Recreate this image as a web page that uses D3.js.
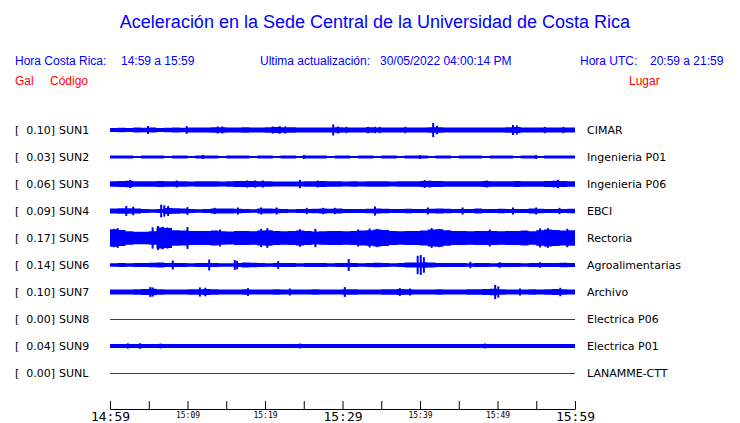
<!DOCTYPE html>
<html>
<head>
<meta charset="utf-8">
<script src="https://cdn.jsdelivr.net/npm/d3@7"></script>
<style>
  body { margin: 0; background: #fff; }
  svg { display: block; }
</style>
</head>
<body>
<svg id="chart" width="740" height="423"></svg>
<script>
// stations (top to bottom)
var codes = ["SUN1","SUN2","SUN3","SUN4","SUN5","SUN6","SUN7","SUN8","SUN9","SUNL"];
var places = ["CIMAR","Ingenieria P01","Ingenieria P06","EBCI","Rectoria","Agroalimentarias","Archivo","Electrica P06","Electrica P01","LANAMME-CTT"];
var peakGal = [0.10,0.03,0.06,0.09,0.17,0.14,0.10,0.00,0.04,0.00];

// axis ticks (every 5 min), labels every 10 min
var tickTimes = ["14:59","15:04","15:09","15:14","15:19","15:24","15:29","15:34","15:39","15:44","15:49","15:54","15:59"];
var tickLabels = ["14:59","15:09","15:19","15:29","15:39","15:49","15:59"];
var bigLabels = ["14:59","15:29","15:59"];

// envelope (half amplitude, Gal) for each minute after 14:59
var sun1Env = [0.030,0.032,0.030,0.034,0.032,0.035,0.030,0.032,0.034,0.033,0.035,0.036,0.034,0.038,0.040,0.036,0.035,0.038,0.036,0.037,
  0.038,0.042,0.040,0.038,0.036,0.035,0.036,0.034,0.036,0.038,0.035,0.034,0.036,0.038,0.036,0.034,0.035,0.034,0.036,0.035,
  0.034,0.040,0.038,0.035,0.034,0.035,0.036,0.034,0.035,0.036,0.035,0.038,0.042,0.036,0.035,0.034,0.036,0.035,0.034,0.035];
var sun2Env = [0.022,0.021,0.022,0.014,0.022,0.021,0.022,0.015,0.022,0.022,0.014,0.022,0.021,0.022,0.015,0.022,0.022,0.021,0.014,0.022,
  0.021,0.015,0.022,0.022,0.014,0.021,0.022,0.022,0.015,0.022,0.021,0.014,0.022,0.021,0.015,0.022,0.022,0.014,0.021,0.022,
  0.022,0.015,0.021,0.022,0.014,0.022,0.021,0.022,0.015,0.022,0.021,0.022,0.014,0.022,0.021,0.015,0.022,0.022,0.021,0.022];
var sun3Env = [0.040,0.042,0.045,0.040,0.038,0.040,0.042,0.040,0.038,0.040,0.036,0.038,0.040,0.038,0.036,0.038,0.042,0.044,0.042,0.040,
  0.038,0.036,0.035,0.034,0.036,0.038,0.040,0.042,0.040,0.038,0.036,0.038,0.036,0.038,0.040,0.038,0.036,0.038,0.040,0.038,
  0.042,0.044,0.042,0.040,0.038,0.040,0.038,0.040,0.042,0.040,0.038,0.040,0.042,0.040,0.038,0.040,0.042,0.045,0.044,0.040];
var sun4Env = [0.036,0.040,0.038,0.036,0.028,0.026,0.030,0.042,0.040,0.036,0.028,0.026,0.028,0.034,0.036,0.034,0.032,0.028,0.026,0.034,
  0.036,0.032,0.028,0.026,0.028,0.027,0.032,0.034,0.032,0.034,0.030,0.028,0.030,0.032,0.036,0.032,0.030,0.028,0.032,0.030,
  0.028,0.032,0.036,0.032,0.030,0.028,0.030,0.034,0.030,0.028,0.032,0.030,0.028,0.030,0.034,0.032,0.030,0.028,0.030,0.032];
var sun5Env = [0.125,0.115,0.095,0.090,0.088,0.095,0.150,0.140,0.110,0.105,0.100,0.098,0.100,0.105,0.095,0.092,0.098,0.100,0.095,0.105,
  0.110,0.100,0.095,0.098,0.105,0.100,0.092,0.095,0.100,0.098,0.095,0.100,0.105,0.110,0.120,0.115,0.100,0.095,0.098,0.100,
  0.105,0.120,0.125,0.110,0.100,0.098,0.095,0.100,0.098,0.100,0.095,0.098,0.100,0.105,0.095,0.110,0.120,0.115,0.105,0.110];
var sun6Env = [0.026,0.028,0.026,0.030,0.028,0.032,0.034,0.030,0.028,0.030,0.026,0.028,0.030,0.028,0.026,0.024,0.030,0.034,0.032,0.028,
  0.026,0.028,0.030,0.028,0.026,0.028,0.030,0.028,0.026,0.028,0.030,0.028,0.026,0.030,0.032,0.028,0.026,0.030,0.034,0.036,
  0.040,0.034,0.030,0.028,0.030,0.028,0.026,0.028,0.030,0.026,0.028,0.030,0.028,0.026,0.028,0.030,0.028,0.030,0.032,0.030];
var sun7Env = [0.034,0.036,0.034,0.038,0.042,0.045,0.040,0.036,0.034,0.036,0.038,0.040,0.042,0.038,0.036,0.034,0.036,0.038,0.036,0.034,
  0.036,0.038,0.036,0.034,0.035,0.036,0.038,0.036,0.034,0.036,0.038,0.040,0.036,0.034,0.036,0.038,0.040,0.042,0.038,0.036,
  0.034,0.036,0.038,0.036,0.034,0.036,0.038,0.040,0.044,0.045,0.040,0.036,0.034,0.036,0.038,0.036,0.040,0.042,0.038,0.036];
var sun8Env = [];
var sun9Env = [0.028,0.028,0.030,0.030,0.028,0.028,0.029,0.028,0.028,0.028,0.028,0.029,0.028,0.028,0.028,0.028,0.028,0.029,0.028,0.028,
  0.028,0.028,0.028,0.028,0.029,0.028,0.028,0.028,0.028,0.028,0.028,0.028,0.028,0.029,0.028,0.028,0.028,0.028,0.028,0.028,
  0.028,0.028,0.029,0.028,0.028,0.028,0.028,0.028,0.029,0.028,0.028,0.028,0.028,0.028,0.028,0.028,0.029,0.028,0.028,0.028];
var sunLEnv = [];

// isolated bursts: [minutes after 14:59, half amplitude Gal]
var sun1Spikes = [[4.9,0.057],[9.9,0.055],[13.9,0.05],[14.5,0.05],[21.0,0.05],[21.9,0.055],[22.6,0.05],[28.8,0.078],[29.4,0.05],[30.5,0.045],
  [33.3,0.045],[34.2,0.045],[34.8,0.045],[38.1,0.045],[41.7,0.10],[42.2,0.06],[52.0,0.07],[52.5,0.065],[56.1,0.045],[58.5,0.045]];
var sun2Spikes = [[12,0.03],[25,0.028],[40,0.03],[55,0.028]];
var sun3Spikes = [[2.6,0.058],[8.6,0.05],[17.7,0.05],[18.7,0.05],[19.7,0.05],[24.5,0.058],[26.8,0.05],[40.6,0.055],[41.3,0.05],[48.6,0.05],[57.8,0.06]];
var sun4Spikes = [[2.1,0.07],[3.0,0.06],[6.6,0.09],[7.0,0.08],[7.5,0.07],[10.0,0.055],[13.5,0.045],[16.5,0.05],[19.5,0.05],[21.5,0.05],
  [25.4,0.045],[27.5,0.045],[29.0,0.045],[34.2,0.065],[41.0,0.05],[45.5,0.05],[52.0,0.05],[55.0,0.05],[58.0,0.045]];
var sun5Spikes = [[0.5,0.13],[1.0,0.14],[5.5,0.15],[6.2,0.17],[6.8,0.16],[7.4,0.15],[10.0,0.155],[14.2,0.12],[19.5,0.13],[20.3,0.14],
  [24.5,0.125],[26.5,0.13],[32.0,0.12],[33.5,0.135],[34.5,0.13],[41.5,0.14],[42.5,0.13],[49.0,0.12],[55.5,0.135],[56.5,0.14],[59.0,0.13]];
var sun6Spikes = [[8.1,0.063],[12.8,0.077],[16.1,0.07],[16.4,0.06],[21.7,0.055],[30.8,0.085],[39.7,0.13],[40.1,0.14],[40.5,0.11],
  [46.5,0.045],[50.3,0.04],[55.5,0.04]];
var sun7Spikes = [[5.2,0.07],[5.5,0.065],[11.6,0.065],[12.3,0.06],[17.8,0.055],[23.2,0.05],[30.3,0.07],[37.4,0.055],[38.7,0.05],
  [49.7,0.10],[50.1,0.08],[52.9,0.05],[58.1,0.06]];
var sun8Spikes = [];
var sun9Spikes = [[2.3,0.038],[3.9,0.04],[6.5,0.035],[24.5,0.035],[48.4,0.035]];
var sunLSpikes = [];

var envs = [sun1Env,sun2Env,sun3Env,sun4Env,sun5Env,sun6Env,sun7Env,sun8Env,sun9Env,sunLEnv];
var spikes = [sun1Spikes,sun2Spikes,sun3Spikes,sun4Spikes,sun5Spikes,sun6Spikes,sun7Spikes,sun8Spikes,sun9Spikes,sunLSpikes];

var svg = d3.select("#chart");
var parse = d3.timeParse("%H:%M");
var t0 = parse("14:59"), t1 = parse("15:59");

var x = d3.scaleTime().domain([t0, t1]).range([110, 575]);
var xm = d3.scaleLinear().domain([0, 60]).range([110, 575]);
var y = d3.scalePoint().domain(codes).range([130, 373]);
var amp = d3.scaleLinear().domain([0, 0.17]).range([0, 12]);

var blue = "#0000ff", red = "#ff0000";
var headFont = "'Liberation Sans', Arial, sans-serif";
var labFont = "'DejaVu Sans', sans-serif";
var monoFont = "'DejaVu Sans Mono', monospace";

// title + header
svg.append("text").attr("x", 375).attr("y", 28).attr("text-anchor", "middle")
  .attr("font-family", headFont).attr("font-size", 18).attr("fill", blue)
  .text("Aceleración en la Sede Central de la Universidad de Costa Rica");

var head = [
  [15, 65, "Hora Costa Rica:", blue],
  [121, 65, "14:59 a 15:59", blue],
  [260, 65, "Ultima actualización:", blue],
  [380, 65, "30/05/2022 04:00:14 PM", blue],
  [580, 65, "Hora UTC:", blue],
  [650, 65, "20:59 a 21:59", blue],
  [15, 85, "Gal", red],
  [50, 85, "Código", red],
  [629, 85, "Lugar", red]
];
svg.append("g").selectAll("text").data(head).enter().append("text")
  .attr("x", d => d[0]).attr("y", d => d[1])
  .attr("font-family", headFont).attr("font-size", 12).attr("fill", d => d[3])
  .text(d => d[2]);

// rows
var rows = svg.append("g").selectAll("g").data(codes).enter().append("g")
  .attr("transform", d => "translate(0," + y(d) + ")");

rows.append("text").attr("x", 15).attr("y", 4).attr("font-family", labFont).attr("font-size", 11)
  .text("[");
rows.append("text").attr("x", 55).attr("y", 4).attr("text-anchor", "end").attr("font-family", labFont).attr("font-size", 11)
  .text((d, i) => peakGal[i].toFixed(2) + "]");
rows.append("text").attr("x", 59).attr("y", 4).attr("font-family", labFont).attr("font-size", 11)
  .text(d => d);
rows.append("text").attr("x", 587).attr("y", 4).attr("font-family", labFont).attr("font-size", 11)
  .text((d, i) => places[i]);

var area = d3.area()
  .x(d => xm(d[0]))
  .y0(d => -amp(d[1]))
  .y1(d => amp(d[1]))
  .curve(d3.curveStepAfter);

rows.each(function(code, i) {
  var g = d3.select(this);
  var env = envs[i];
  if (!env.length) {
    g.append("line").attr("x1", xm(0)).attr("x2", xm(60)).attr("y1", 0.5).attr("y2", 0.5)
      .attr("stroke", "#d00000").attr("stroke-width", 1);
    return;
  }
  var pts = env.map((v, k) => [k, v]);
  pts.push([60, env[env.length - 1]]);
  g.append("path").attr("d", area(pts)).attr("fill", blue);
  g.selectAll("line.sp").data(spikes[i]).enter().append("line").attr("class", "sp")
    .attr("x1", d => xm(d[0])).attr("x2", d => xm(d[0]))
    .attr("y1", d => -amp(d[1])).attr("y2", d => amp(d[1]))
    .attr("stroke", blue).attr("stroke-width", 2);
});

// time axis, ticks pointing up
var axis = d3.axisBottom(x)
  .tickValues(tickTimes.map(parse))
  .tickSizeInner(-8).tickSizeOuter(0)
  .tickFormat(d => {
    var s = d3.timeFormat("%H:%M")(d);
    return tickLabels.indexOf(s) >= 0 ? s : "";
  });
var ax = svg.append("g").attr("transform", "translate(0,409)").call(axis);
ax.select(".domain").attr("stroke", "#000");
ax.selectAll(".tick line").attr("stroke", "#000");
ax.selectAll(".tick text")
  .attr("font-family", monoFont)
  .attr("fill", "#000")
  .attr("dy", null)
  .attr("y", function() { return bigLabels.indexOf(this.textContent) >= 0 ? 11.5 : 9; })
  .attr("font-size", function() { return bigLabels.indexOf(this.textContent) >= 0 ? 13 : 8; });
</script>
</body>
</html>
